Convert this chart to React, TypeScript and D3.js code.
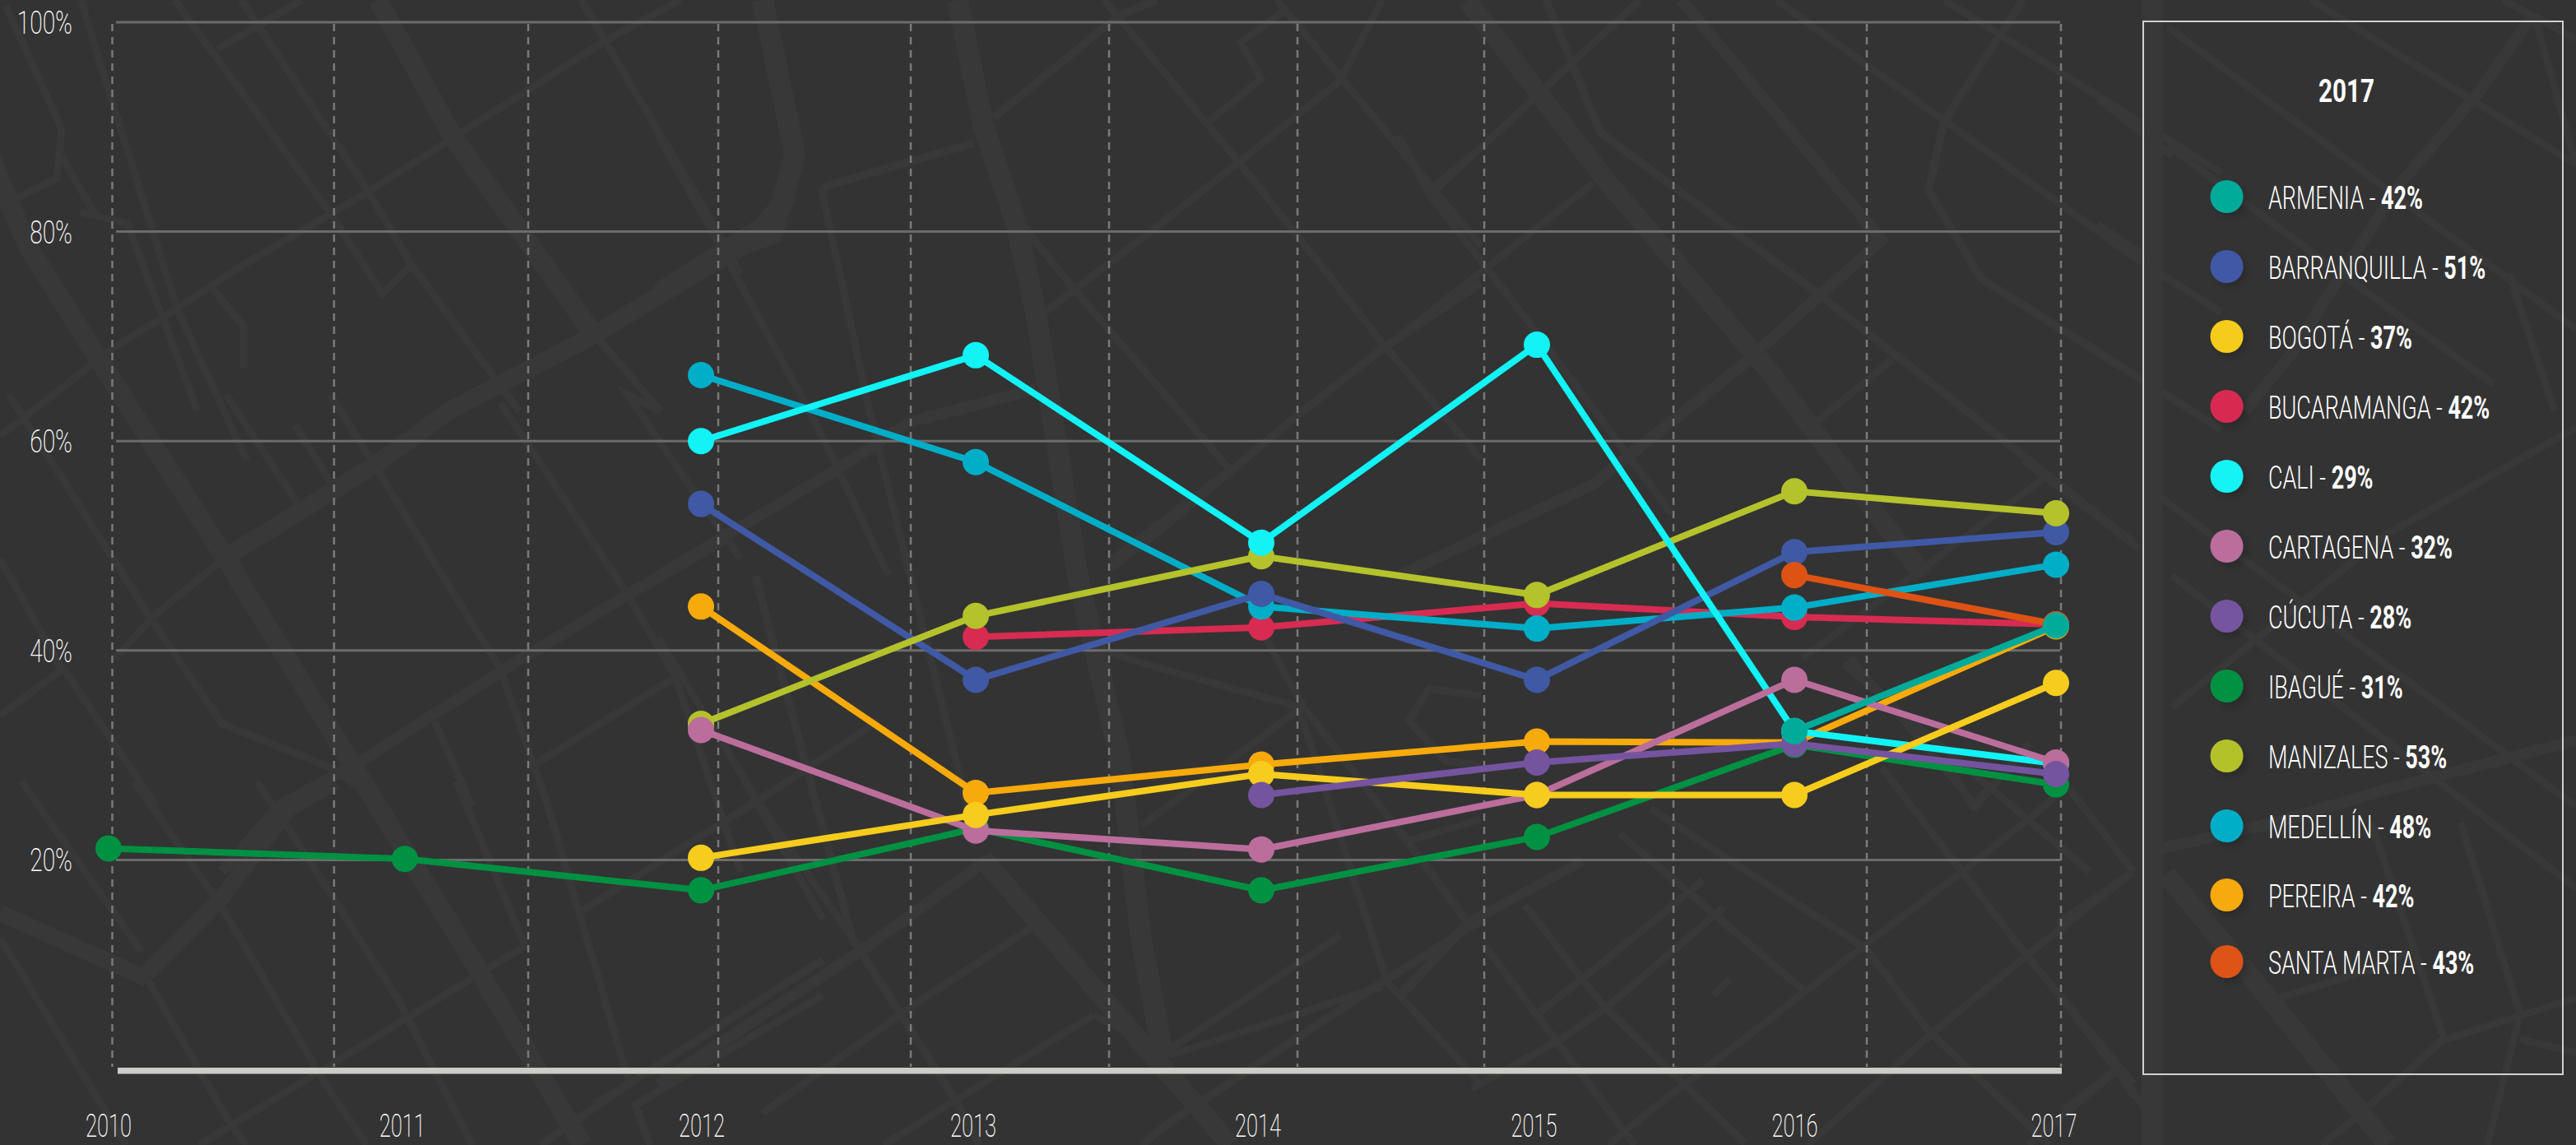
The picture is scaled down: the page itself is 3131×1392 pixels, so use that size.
import React from "react";
import * as d3 from "d3";

const years = [2010, 2011, 2012, 2013, 2014, 2015, 2016, 2017];
const yTicks = [20, 40, 60, 80, 100];

const armenia = [null, null, null, null, null, null, 32.3, 42.4];
const barranquilla = [null, null, 54, 37.2, 45.4, 37.2, 49.4, 51.3];
const bogota = [null, null, 20.2, 24.3, 28.2, 26.2, 26.2, 36.9];
const bucaramanga = [null, null, null, 41.3, 42.2, 44.5, 43.2, 42.5];
const cali = [null, null, 60, 68.2, 50.3, 69.2, 32.3, 29.2];
const cartagena = [null, null, 32.4, 22.8, 21, 26.2, 37.2, 29.3];
const cucuta = [null, null, null, null, 26.2, 29.3, 31.1, 28.2];
const ibague = [21.1, 20.1, 17.1, 23, 17.1, 22.2, 31, 27.2];
const manizales = [null, null, 33, 43.3, 49, 45.3, 55.2, 53.1];
const medellin = [null, null, 66.3, 58, 44.2, 42.1, 44.1, 48.2];
const pereira = [null, null, 44.2, 26.4, 29.1, 31.3, 31.2, 42.3];
const santaMarta = [null, null, null, null, null, null, 47.2, 42.5];

const legendNames = ["ARMENIA", "BARRANQUILLA", "BOGOTÁ", "BUCARAMANGA", "CALI", "CARTAGENA", "CÚCUTA", "IBAGUÉ", "MANIZALES", "MEDELLÍN", "PEREIRA", "SANTA MARTA"];
const legendValues = [42, 51, 37, 42, 29, 32, 28, 31, 53, 48, 42, 43];
const legendColors = ["#00ab9a", "#4059a5", "#f6cc1d", "#d82b51", "#12f3f5", "#bb6e9c", "#74549f", "#009142", "#b4c22c", "#00aec8", "#f7aa0b", "#de5314"];
const seriesValues = [armenia, barranquilla, bogota, bucaramanga, cali, cartagena, cucuta, ibague, manizales, medellin, pereira, santaMarta];
// painting order, back to front, as indices into the legend lists
const paintOrder = [7, 10, 3, 9, 1, 8, 4, 5, 2, 6, 11, 0];

const W = 3131, H = 1392;
const FONT = "Roboto, 'Noto Sans', sans-serif";

const x = d3.scaleLinear().domain(years).range([132, 492, 852, 1186, 1533, 1868, 2181, 2499]);
const y = d3.scaleLinear().domain([0, 100]).range([1300, 27]);
const gridX = d3.scaleLinear().domain([0, 1, 2, 3, 4, 5, 6, 7, 8, 9, 10])
  .range([136.5, 406, 642, 873, 1107, 1348, 1577, 1804, 2034, 2269, 2505]);
const tickX = d3.scaleLinear().domain(years).range([132, 489, 853, 1183, 1529, 1864.5, 2181.5, 2496.5]);
const legendY = d3.scaleLinear().domain([0, 9, 10, 11]).range([239, 1004, 1088, 1169]);

// decorative street map behind the chart: [width, x0, y0, x1, y1, ...]
const streets = [
  [24, 459, 0, 551, 167, 717, 400],
  [9, 717, 400, 803, 500, 763, 480, 900, 680],
  [24, -20, 170, 34, 300, 160, 500, 275, 680, 459, 980, 574, 1167, 708, 1392],
  [22, 966, 187, 940, 286, 900, 300, 717, 410, 545, 500, 459, 563, 275, 677],
  [9, 275, 677, 189, 747, 140, 800],
  [26, 927, 0, 966, 187, 950, 250, 927, 277, 800, 357],
  [26, 1164, 0, 1195, 152, 1234, 268, 1259, 380, 1310, 700, 1361, 921, 1387, 1141, 1412, 1274],
  [9, 212, 0, 402, 260, 465, 357, 500, 322],
  [9, 293, 0, 448, 233, 500, 322, 631, 500],
  [9, 98, 0, 215, 375, 300, 560],
  [9, 7, 7, 75, 157, 69, 217, 23, 240, -5, 252],
  [9, 75, 190, 115, 260],
  [9, 98, 258, 155, 272, 240, 500],
  [9, 827, 0, 735, 50, 448, 233, 299, 320, 212, 377, 138, 423, 0, 530],
  [9, 264, 60, 367, 0],
  [9, 706, 0, 873, 283, 900, 333],
  [9, 258, 350, 296, 397, 296, 447],
  [9, 11, 480, 138, 680, 184, 753, 270, 880, 402, 933, 470, 980],
  [9, 275, 480, 362, 613],
  [9, 359, 517, 402, 587],
  [9, 402, 480, 608, 813, 666, 980, 700, 1100],
  [9, 608, 490, 763, 723, 821, 823, 900, 1060],
  [14, 878, 657, 763, 723, 608, 817, 436, 927, 339, 980, 270, 1060],
  [9, 821, 823, 649, 930],
  [9, 528, 877, 574, 980],
  [9, 0, 870, 77, 813, 190, 980],
  [9, 0, 680, 75, 813],
  [20, 0, 1110, 179, 1190],
  [9, 179, 1190, 280, 1367, 300, 1392],
  [20, 179, 1183, 268, 1093, 351, 983, 408, 950],
  [9, 26, 950, 172, 1157],
  [9, 163, 950, 268, 1100, 395, 1317, 446, 1392],
  [9, 312, 950, 351, 1007, 485, 1217, 574, 1392],
  [9, 0, 1140, 153, 1392],
  [9, 638, 1150, 491, 1240, 242, 1392],
  [9, 555, 950, 638, 1150],
  [9, 657, 950, 765, 1317, 721, 1343],
  [10, 1000, 1167, 765, 1317, 657, 1392],
  [9, 957, 950, 708, 1107],
  [9, 1000, 1210, 772, 1343, 790, 1392],
  [9, 905, 950, 1000, 1117],
  [10, 1183, 174, 998, 228],
  [9, 998, 228, 1055, 491, 1106, 700, 1183, 1009],
  [9, 800, 165, 870, 290, 991, 513, 1080, 700],
  [10, 1208, 143, 1361, 18, 1406, 0],
  [14, 1259, 473, 1106, 513, 1017, 571, 800, 700],
  [9, 1234, 263, 1310, 357, 1495, 571, 1348, 683],
  [9, 1342, 0, 1505, 196, 1686, 424, 1800, 558],
  [9, 1552, 0, 1744, 232, 1800, 299],
  [9, 1562, 13, 1508, 51, 1533, 96, 1470, 147],
  [9, 1680, 0, 1629, 98, 1501, 201, 1393, 286, 1259, 388],
  [10, 1800, 344, 1680, 424, 1572, 509, 1412, 643, 1348, 692],
  [9, 1737, 232, 1800, 179],
  [24, 1783, 0, 1955, 223, 2146, 446, 2338, 700],
  [10, 1879, 0, 1945, 161, 2210, 357, 2593, 660],
  [14, 2044, 0, 2287, 292, 2115, 446, 1936, 589, 1700, 700],
  [9, 2159, 0, 2593, 312, 2700, 380],
  [9, 1993, 0, 1738, 237, 1700, 165],
  [9, 1936, 223, 1700, 410],
  [10, 2459, 0, 2363, 147, 2344, 232, 2408, 339, 2700, 522],
  [9, 2300, 437, 2197, 522],
  [9, 1738, 237, 1859, 393, 2032, 625],
  [9, 2363, 0, 2700, 210],
  [26, 2616, -5, 2616, 1400],
  [9, 2635, 33, 3131, 400],
  [9, 2635, 177, 2846, 333, 3031, 467],
  [9, 2809, 0, 3131, 200],
  [14, 3080, 17, 3009, 117, 2920, 220, 2846, 333, 2783, 433, 2728, 500],
  [9, 3042, 0, 3131, 47],
  [9, 3080, 17, 3131, 200],
  [9, 3050, 333, 3105, 500],
  [9, 2550, 120, 2640, 190],
  [9, 2550, 273, 2620, 320],
  [24, 2633, 1063, 2757, 1213, 2870, 1353, 2902, 1392],
  [14, 2620, 1033, 2766, 1000, 2900, 960, 3131, 900],
  [9, 2757, 1217, 2878, 1180, 2927, 1157],
  [9, 2882, 1000, 2971, 1263],
  [9, 2991, 1000, 3063, 1233, 3023, 1392],
  [9, 2963, 1267, 3131, 1213],
  [9, 2971, 1263, 2870, 1353, 2822, 1392],
  [9, 3063, 1263, 3131, 1280],
  [9, 2500, 1123, 2593, 1060],
  [9, 2500, 1207, 2572, 1300, 2508, 1350],
  [9, 2572, 1300, 2617, 1360],
  [9, 2593, 1060, 2465, 1160, 2344, 1260, 2197, 1392],
  [9, 2497, 970, 2389, 1057, 2261, 1153, 2146, 1243, 2006, 1350, 1955, 1392],
  [9, 2095, 1103, 2032, 1157, 1955, 1223, 1898, 1263, 1789, 1323],
  [9, 2070, 1070, 2006, 1123, 1923, 1190, 1872, 1230],
  [12, 1923, 1047, 1783, 1123, 1700, 1213],
  [9, 2102, 1190, 2083, 1210],
  [9, 1700, 1007, 1783, 1120],
  [9, 1853, 1100, 1949, 1223, 2121, 1390],
  [9, 1805, 1150, 1987, 1392],
  [9, 1968, 1013, 2191, 1203],
  [9, 2006, 983, 2268, 1153, 2344, 1253, 2491, 1392],
  [9, 2287, 933, 2462, 1160, 2593, 1317],
  [9, 2516, 960, 2593, 1060],
  [9, 2370, 933, 2398, 980, 2433, 943],
  [9, 2574, 1300, 2593, 1333],
  [9, 2574, 1300, 2465, 1392],
  [24, 1195, 1044, 1374, 1252, 1470, 1362, 1495, 1392],
  [10, 918, 700, 1036, 1141, 1163, 1340, 1190, 1392],
  [9, 800, 775, 921, 974, 1036, 1141],
  [9, 1068, 876, 921, 974, 800, 1048],
  [14, 1202, 1044, 1055, 1150, 800, 1318],
  [9, 1253, 1128, 1106, 1225, 927, 1353],
  [9, 1680, 1199, 1425, 1282, 1329, 1234],
  [9, 1329, 1234, 1074, 1392],
  [10, 1800, 1119, 1680, 1194, 1425, 1362, 1387, 1392],
  [9, 1584, 859, 1387, 1004],
  [9, 1629, 1137, 1399, 1291],
  [9, 1348, 793, 1387, 806, 1578, 859, 1686, 1194, 1800, 1318],
  [9, 1521, 744, 1584, 859],
  [9, 1800, 846, 1737, 837, 1712, 876, 1757, 925, 1800, 930],
  [9, 1712, 1022, 1800, 996],
  [9, 1782, 1119, 1693, 1000, 1584, 859],
  [9, 2600, 667, 2486, 580, 2459, 560],
  [9, 2486, 580, 2191, 800],
  [9, 2249, 800, 2402, 980, 2467, 903],
  [9, 2241, 807, 2540, 1060],
  [9, 2620, 600, 3131, 980],
  [9, 2640, 860, 2900, 650, 3131, 520],
  [9, 2640, 700, 2900, 900, 3131, 1080],
];

const streetLine = d3.line<[number, number]>();

function streetPath(s: number[]) {
  const pts: [number, number][] = [];
  for (let i = 1; i < s.length; i += 2) pts.push([s[i], s[i + 1]]);
  return streetLine(pts) as string;
}

const seriesLine = d3.line<number | null>()
  .defined((d) => d !== null)
  .x((_, i) => x(years[i]))
  .y((d) => y(d as number));

export default function App() {
  return (
    <svg
      width={W}
      height={H}
      viewBox={`0 0 ${W} ${H}`}
      style={{ position: "absolute", left: 0, top: 0, display: "block", background: "#333333" }}
      fontFamily={FONT}
    >
      <defs>
        <filter id="dotShadow" x="-50%" y="-50%" width="220%" height="220%">
          <feDropShadow dx="5" dy="5" stdDeviation="5" floodColor="#000" floodOpacity="0.18" />
        </filter>
      </defs>

      <rect width={W} height={H} fill="#333333" />
      <g fill="none" stroke="#383838" strokeLinejoin="miter">
        {streets.map((s, i) => (
          <path key={i} d={streetPath(s)} strokeWidth={s[0]} />
        ))}
      </g>

      {yTicks.map((t) => (
        <line key={t} x1={141} x2={2504} y1={y(t)} y2={y(t)} stroke="#6c6c6c" strokeWidth={3} />
      ))}
      {gridX.domain().map((g) => (
        <line key={g} x1={gridX(g)} x2={gridX(g)} y1={29} y2={1297} stroke="#7a7a7a" strokeWidth={2.5} strokeDasharray="9 7" />
      ))}
      <rect x={143} y={1298} width={2363} height={7.5} fill="#cccdc8" />

      {yTicks.map((t) => (
        <text
          key={t}
          transform={`translate(88,${y(t) + 14}) scale(0.74,1)`}
          textAnchor="end"
          fontSize={38}
          fontWeight={200}
          fill="#ffffff"
        >
          {t}%
        </text>
      ))}
      {years.map((yr) => (
        <text
          key={yr}
          transform={`translate(${tickX(yr)},1382) scale(0.67,1)`}
          textAnchor="middle"
          fontSize={38}
          fontWeight={200}
          fill="#ffffff"
        >
          {yr}
        </text>
      ))}

      {paintOrder.map((si) => (
        <g key={si}>
          <path d={seriesLine(seriesValues[si]) as string} fill="none" stroke={legendColors[si]} strokeWidth={8} />
          {seriesValues[si].map((v, i) =>
            v === null ? null : <circle key={i} cx={x(years[i])} cy={y(v)} r={16} fill={legendColors[si]} />
          )}
        </g>
      ))}

      <rect x={2605} y={26} width={510} height={1280} fill="none" stroke="#d0d0d0" strokeWidth={2} />
      <text
        transform="translate(2852,124) scale(0.78,1)"
        textAnchor="middle"
        fontSize={38}
        fontWeight={700}
        fill="#ffffff"
      >
        2017
      </text>
      {legendNames.map((name, i) => (
        <g key={name}>
          <circle cx={2706.5} cy={legendY(i)} r={20} fill={legendColors[i]} filter="url(#dotShadow)" />
          <text
            transform={`translate(2757,${legendY(i) + 14.5}) scale(0.71,1)`}
            fontSize={38}
            fontWeight={300}
            fill="#ffffff"
          >
            {name} -{" "}
            <tspan fontWeight={700}>{legendValues[i]}%</tspan>
          </text>
        </g>
      ))}
    </svg>
  );
}
